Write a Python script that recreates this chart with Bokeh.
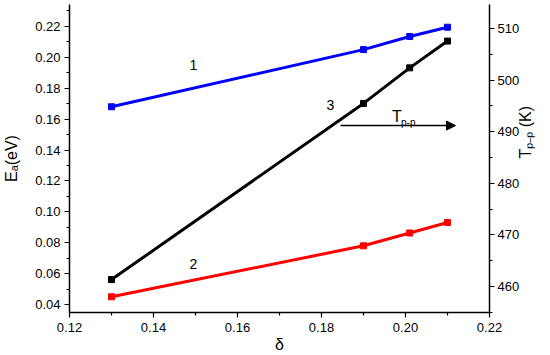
from bokeh.plotting import figure
from bokeh.models import Range1d, LinearAxis, FixedTicker, Label, Arrow, NormalHead, NumeralTickFormatter
from bokeh.embed import file_html
from bokeh.resources import INLINE

# ---- data ----
delta = [0.13, 0.19, 0.201, 0.21]
ea_curve1 = [0.168, 0.205, 0.2135, 0.2195]
ea_curve2 = [0.045, 0.078, 0.0863, 0.0931]
tpp_curve3 = [461.3, 495.5, 502.4, 507.6]

x_major = [0.12, 0.14, 0.16, 0.18, 0.20, 0.22]
x_minor = [0.13, 0.15, 0.17, 0.19, 0.21]
ea_major = [0.04, 0.06, 0.08, 0.10, 0.12, 0.14, 0.16, 0.18, 0.20, 0.22]
ea_minor = [0.05, 0.07, 0.09, 0.11, 0.13, 0.15, 0.17, 0.19, 0.21, 0.23]
t_major = [460, 470, 480, 490, 500, 510]
t_minor = [455, 465, 475, 485, 495, 505, 515]

FONT = "Liberation Sans"
X0, X1 = 0.12, 0.22
Y0, Y1 = 0.03484, 0.2342
T0, T1 = 454.91, 514.70
W, H = 550, 355
BL, BR, BT, BB = 69, 61, 4, 42
FW, FH = W - BL - BR, H - BT - BB


def dx(px):
    return X0 + (px - BL) * (X1 - X0) / FW


def dy(py):
    return Y1 - (py - BT) * (Y1 - Y0) / FH


p = figure(width=W, height=H, x_range=Range1d(X0, X1), y_range=Range1d(Y0, Y1),
           output_backend="svg", toolbar_location=None,
           min_border_left=BL, min_border_right=BR, min_border_top=BT, min_border_bottom=BB)
p.extra_y_ranges = {"T": Range1d(T0, T1)}
p.add_layout(LinearAxis(y_range_name="T"), "right")
p.grid.visible = False
p.outline_line_color = None
p.background_fill_color = "white"
p.border_fill_color = "white"

for ax in p.axis:
    ax.axis_line_color = "black"
    ax.axis_line_width = 1.5
    ax.major_tick_line_color = "black"
    ax.minor_tick_line_color = "black"
    ax.major_tick_line_width = 1.2
    ax.minor_tick_line_width = 1.2
    ax.major_tick_in = 0
    ax.major_tick_out = 5
    ax.minor_tick_in = 0
    ax.minor_tick_out = 3
    ax.major_label_text_font = FONT
    ax.major_label_text_font_size = "13px"
    ax.major_label_text_color = "black"
    ax.axis_label_text_font = FONT
    ax.axis_label_text_font_size = "16px"
    ax.axis_label_text_font_style = "normal"
    ax.axis_label_text_color = "black"

p.xaxis.ticker = FixedTicker(ticks=x_major, minor_ticks=x_minor)
p.xaxis.formatter = NumeralTickFormatter(format="0.00")
p.xaxis.major_label_standoff = 5
p.xaxis.axis_label = "δ"
p.xaxis.axis_label_standoff = 1
p.yaxis[0].ticker = FixedTicker(ticks=ea_major, minor_ticks=ea_minor)
p.yaxis[0].formatter = NumeralTickFormatter(format="0.00")
p.yaxis[0].major_label_standoff = 4
p.yaxis[0].axis_label = "Eₐ(eV)"
p.yaxis[0].axis_label_standoff = 12
p.yaxis[1].ticker = FixedTicker(ticks=t_major, minor_ticks=t_minor)
p.yaxis[1].major_label_standoff = 3
p.yaxis[1].axis_label = "Tₚ₋ₚ (K)"
p.yaxis[1].axis_label_standoff = 3
p.yaxis[1].axis_label_orientation = 1.5707963267948966
p.yaxis[1].axis_label_text_align = "center"

# curves
p.line(delta, ea_curve1, line_color="#0000ff", line_width=3)
p.scatter(delta, ea_curve1, marker="square", size=6, fill_color="#0000ff", line_color="#0000ff")
p.line(delta, ea_curve2, line_color="#ff0000", line_width=3)
p.scatter(delta, ea_curve2, marker="square", size=6, fill_color="#ff0000", line_color="#ff0000")
p.line(delta, tpp_curve3, line_color="black", line_width=3, y_range_name="T")
p.scatter(delta, tpp_curve3, marker="square", size=6, fill_color="black", line_color="black", y_range_name="T")


def lab(px, py, text, size, align="left", baseline="alphabetic"):
    p.add_layout(Label(x=dx(px), y=dy(py), text=text, text_font=FONT, text_font_size=size,
                       text_align=align, text_baseline=baseline, text_color="black"))


# curve numbers
lab(193, 65, "1", "14px", "center", "middle")
lab(193, 264, "2", "14px", "center", "middle")
lab(330, 105, "3", "14px", "center", "middle")

# T_p-p annotation with arrow
lab(391.5, 116.7, "T", "16px")
lab(400.5, 122, "p-p", "10px")
p.add_layout(Arrow(end=NormalHead(size=9, fill_color="black", line_color="black"),
                   x_start=dx(340), y_start=dy(125.5), x_end=dx(455), y_end=dy(125.5),
                   line_width=1.5, line_color="black"))

open("out.html", "w").write(file_html(p, INLINE))
